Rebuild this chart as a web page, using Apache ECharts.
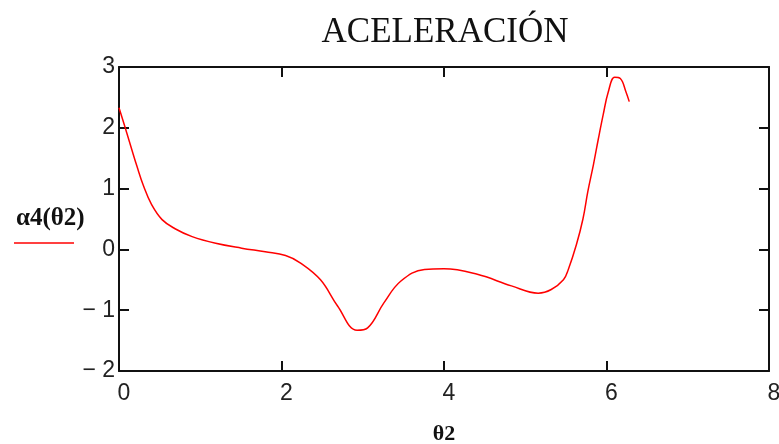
<!DOCTYPE html>
<html>
<head>
<meta charset="utf-8">
<script src="https://cdn.jsdelivr.net/npm/echarts@6/dist/echarts.min.js"></script>
<style>
  html, body { margin: 0; padding: 0; background: #fff; }
</style>
</head>
<body>
<div id="myChart" style="width:779px;height:444px;"></div>
<script>
// θ2 values (rad) and α4(θ2)
var theta2 = [0, 0.095, 0.16, 0.22, 0.30, 0.40, 0.53, 0.69, 0.90, 1.19, 1.51, 1.8, 2.05, 2.23, 2.48, 2.69, 2.93, 3.06, 3.26, 3.47, 3.76, 4.0, 4.41, 4.83, 5.16, 5.32, 5.47, 5.53, 5.63, 5.71, 5.77, 5.84, 5.90, 5.96, 6.02, 6.10, 6.17, 6.24, 6.28];
var alpha4 = [2.33, 1.92, 1.63, 1.37, 1.05, 0.74, 0.49, 0.34, 0.21, 0.10, 0.02, -0.04, -0.1, -0.22, -0.50, -0.93, -1.33, -1.29, -0.88, -0.52, -0.33, -0.32, -0.41, -0.60, -0.72, -0.66, -0.50, -0.33, 0.08, 0.50, 0.95, 1.40, 1.82, 2.22, 2.58, 2.83, 2.81, 2.59, 2.43];

var xTicks = { min: 0, max: 8, interval: 2 };
var yTicks = { min: -2, max: 3, interval: 1 };

var points = theta2.map(function (t, i) { return [t, alpha4[i]]; });

var numFont = { fontFamily: 'Liberation Sans', fontSize: 23, color: '#222' };
var lineStyle = { color: '#111', width: 2 };
var tick = { show: true, inside: true, length: 10, lineStyle: { color: '#111', width: 2 } };

var myChart = echarts.init(document.getElementById('myChart'));
myChart.setOption({
  animation: false,
  title: {
    text: 'ACELERACIÓN',
    left: 440,
    top: 10,
    textAlign: 'center',
    textStyle: { fontFamily: 'Liberation Serif', fontSize: 35, fontWeight: 'normal', color: '#111' }
  },
  grid: { left: 119, right: 10, top: 67, bottom: 73, containLabel: false, outerBoundsMode: 'none' },
  xAxis: [{
    type: 'value',
    min: xTicks.min, max: xTicks.max, interval: xTicks.interval,
    axisLine: { show: true, onZero: false, lineStyle: lineStyle },
    axisTick: tick,
    splitLine: { show: false },
    axisLabel: Object.assign({ margin: 11, padding: [0, 0, 0, 10] }, numFont),
    name: 'θ2',
    nameLocation: 'middle',
    nameGap: 52,
    nameTextStyle: { fontFamily: 'Liberation Serif', fontSize: 22, fontWeight: 'bold', color: '#111' }
  }, {
    type: 'value',
    position: 'top',
    min: xTicks.min, max: xTicks.max, interval: xTicks.interval,
    axisLine: { show: true, onZero: false, lineStyle: lineStyle },
    axisTick: tick,
    splitLine: { show: false },
    axisLabel: { show: false }
  }],
  yAxis: [{
    type: 'value',
    min: yTicks.min, max: yTicks.max, interval: yTicks.interval,
    axisLine: { show: true, onZero: false, lineStyle: lineStyle },
    axisTick: tick,
    splitLine: { show: false },
    axisLabel: Object.assign({
      margin: 4,
      formatter: function (v) { return v < 0 ? '\u2212 ' + Math.abs(v) : String(v); }
    }, numFont)
  }, {
    type: 'value',
    position: 'right',
    min: yTicks.min, max: yTicks.max, interval: yTicks.interval,
    axisLine: { show: true, onZero: false, lineStyle: lineStyle },
    axisTick: tick,
    splitLine: { show: false },
    axisLabel: { show: false }
  }],
  graphic: [{
    type: 'text',
    left: 16,
    top: 206,
    style: { text: 'α4(θ2)', font: 'bold 25px "Liberation Serif"', fill: '#111' }
  }, {
    type: 'line',
    shape: { x1: 14, y1: 243, x2: 74, y2: 243 },
    style: { stroke: '#ff0000', lineWidth: 1.5 }
  }],
  series: [{
    type: 'line',
    xAxisIndex: 0,
    yAxisIndex: 0,
    data: points,
    smooth: 0.4,
    showSymbol: false,
    lineStyle: { color: '#ff0000', width: 1.5 }
  }]
});
</script>
</body>
</html>
